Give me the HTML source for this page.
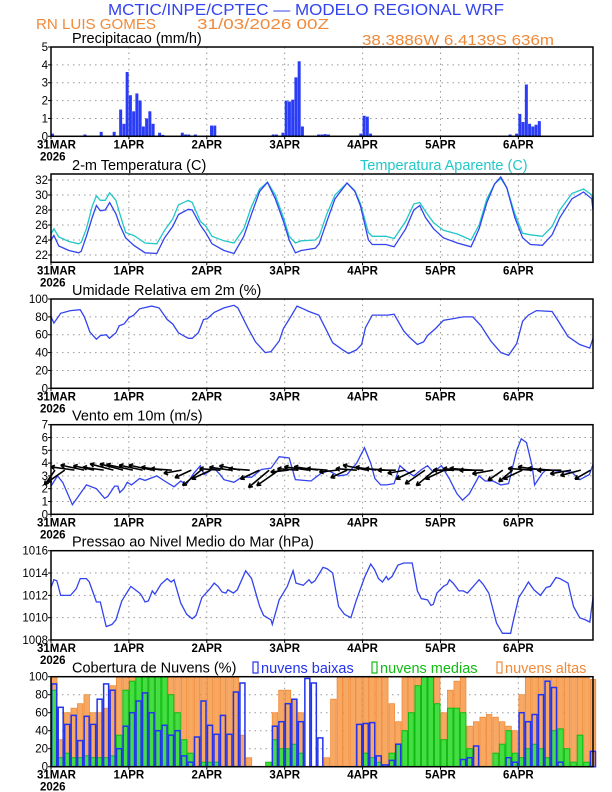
<!DOCTYPE html>
<html><head><meta charset="utf-8"><style>
body{margin:0;background:#fff}
svg{display:block;font-family:"Liberation Sans",sans-serif}
</style></head><body>
<svg id="chart" width="612" height="792" viewBox="0 0 612 792" xmlns="http://www.w3.org/2000/svg">
<text x="306" y="15" text-anchor="middle" font-size="16" fill="#3344ee" textLength="396" lengthAdjust="spacingAndGlyphs">MCTIC/INPE/CPTEC — MODELO REGIONAL WRF</text>
<text x="36" y="29" font-size="15" fill="#f08a3a" textLength="120" lengthAdjust="spacingAndGlyphs">RN LUIS GOMES</text>
<text x="197" y="29" font-size="15" fill="#f08a3a" textLength="132" lengthAdjust="spacingAndGlyphs">31/03/2026 00Z</text>
<text x="362" y="45" font-size="15" fill="#f08a3a" textLength="192" lengthAdjust="spacingAndGlyphs">38.3886W 6.4139S 636m</text>
<g id="layer"></g>
</svg>
<script>
const dayLabels=["31MAR","1APR","2APR","3APR","4APR","5APR","6APR"];
const precipHours=[0,10,15,19,21,22,23,24,25,26,27,28,29,30,31,33,34,40,41,42,44,49,50,68,69,71,72,73,74,75,76,77,82,83,84,85,95,96,97,98,141,143,144,145,146,147,148,149,150];
const precipVals=[0.15,0.1,0.25,0.25,1.5,0.7,3.6,2.3,1.4,2.4,2.0,0.55,1.0,1.4,0.7,0.2,0.08,0.2,0.1,0.1,0.1,0.6,0.6,0.1,0.1,0.2,2.0,1.95,2.05,3.3,4.2,0.55,0.1,0.1,0.12,0.1,0.15,1.15,1.1,0.15,0.1,0.15,1.25,0.8,2.9,0.7,0.55,0.65,0.85];
const tHours=[0,0.9,2.4,5.5,8.5,9.3,10.9,12.7,14,15.2,16.7,18.1,20,21.2,23,25.5,29,32.6,35,37.5,39.3,42.3,43.5,46,47.8,49.6,53.3,56.4,59.4,61.8,64.3,66.7,69.1,71.6,73.4,75.3,77.1,81.4,82.6,85,87.5,91.2,93.6,95.4,97.8,99,103.2,105.7,109.3,111.8,113.6,115.4,117.9,120.9,125.2,129.4,131.9,134.3,136.7,138.6,140.4,142.9,145.3,147.7,151.4,154.4,156.8,160.5,164.1,166.6,167];
const tempVals=[24.0,24.6,23.2,22.6,22.3,22.5,24.5,27.0,28.6,27.9,28.0,29.0,27.5,26.0,24.3,23.3,22.3,22.2,24.3,25.8,27.4,28.1,28.0,26.0,24.9,23.5,22.6,22.2,24.5,27.5,30.5,31.7,29.5,26.5,24.0,22.3,22.6,22.9,23.5,26.5,29.5,31.6,30.5,28.5,24.0,23.4,23.4,23.1,25.5,28.0,28.6,27.0,25.5,24.3,23.6,23.1,25.5,29.0,31.5,32.4,31.0,27.0,24.3,23.4,23.3,24.7,27.0,29.5,30.4,29.5,28.0];
const appVals=[24.8,25.5,24.4,23.8,23.5,23.7,25.5,28.5,29.9,29.3,29.3,30.3,29.3,27.5,25.0,24.6,23.6,23.5,25.3,26.8,28.7,29.3,29.0,26.5,25.8,24.5,23.9,23.6,25.5,28.5,30.8,31.7,30.0,27.0,24.5,23.6,23.9,24.0,24.5,27.5,30.0,31.6,30.6,28.8,25.0,24.5,24.5,24.2,26.5,28.8,29.0,27.8,26.3,25.3,24.8,24.0,26.0,29.5,31.5,32.2,31.0,27.5,24.9,24.7,24.5,25.8,28.0,30.2,30.8,30.0,28.5];
const rhHours=[0,0.9,3,6,9,10.3,12,14,15.2,17,18,20,21,22.5,24,25.5,27.3,31,33.3,35.8,37.5,39.3,42.3,43.5,45.4,47,48.2,50.3,53.3,56.4,57.6,60.6,63,66,67.8,70.3,71.6,74,75.8,77.7,79.5,82.5,85,86.8,89.9,91.7,94.1,95.7,96.9,99,103.8,105.7,108.7,110.5,112.9,114.8,116,118.5,120.9,124,127,130,132.5,135.5,138.6,141,143.5,145.3,147.1,149.6,154.4,156.2,159.3,162.9,166,167];
const rhVals=[80,73,84,87,88,80,63,55,59,60,56,62,70,72,79,82,89,92,90,77,72,62,56,56,62,77,78,85,90,93,90,68,52,40,41,53,67,81,92,89,86,82,64,51,43,39,43,49,68,82,82,83,64,57,49,52,59,67,76,78,80,80,70,53,40,37,50,75,82,87,86,76,58,49,45,56];
const wsHours=[0,2,3.6,6.6,8.4,10.9,14,16.5,17.5,19.6,20.6,21.2,22.4,23.5,24.8,27.3,29,32.6,35,37.9,40,41.6,44,46,47.2,50.3,52.1,53.3,56.4,58.8,61.8,64.8,67.8,70.3,73.4,75.3,80.1,83.2,85.6,88.6,91.2,94.2,96.6,98.5,99.8,101.6,103.4,105.7,107.5,109.3,111.8,114.2,116,117.8,120.3,122.7,125.1,126.8,128.9,131.9,133.8,136.2,138.6,141,143.5,144.9,146.5,148.3,149,151.4,152.6,155.6,160.5,162.9,165.9,167];
const wsVals=[2.2,3.0,2.5,0.75,1.4,2.3,2.0,1.25,1.4,2.2,2.2,1.7,2.0,2.5,2.3,2.8,2.65,3.0,2.6,2.15,2.6,2.3,3.2,3.8,3.1,3.6,3.1,2.7,2.5,2.9,2.9,3.5,3.6,4.5,4.4,2.7,2.6,3.2,3.4,3.0,3.1,4.0,5.2,4.0,2.8,2.3,2.3,2.4,3.8,3.4,3.0,3.5,3.8,3.3,3.8,2.8,1.6,1.1,1.6,3.0,2.6,2.6,2.3,2.4,5.0,5.9,5.6,3.7,2.3,3.2,3.5,3.4,3.3,2.7,3.1,3.9];
const arrowDir=[235,215,172,168,168,172,165,165,168,168,168,172,176,190,205,220,205,176,172,168,176,205,220,215,186,176,172,172,176,186,205,176,168,172,176,180,190,205,215,220,205,180,176,176,180,190,215,220,205,176,172,176,180,190,195,210];
const arrowMag=[3,3.5,4,4,3.5,3.5,4,4,4.5,4,4,3.5,3.5,3,3,4,3.5,3.5,3.5,3.5,3.5,3.5,4.5,4.5,3,3.5,4,4,3.5,3,3,3.5,4,3.5,3.5,3,3,3.5,4,4,3.5,3.5,3.5,4,4,3.5,3,3,3.5,4,4,4,4,3.5,3.5,3];
const pHours=[0,0.9,1.8,3,4.8,6,7.8,9,10.9,11.8,14,15.2,17,18.8,20,21.8,24.6,27.3,27.9,29,30,31.2,32,33.9,35.8,37,37.9,40,41.8,43.5,44.7,46.5,49,50.3,51.5,52.7,53.9,54.5,56.2,57.4,60,61.8,64.3,65.5,67.8,68.2,70.3,72.8,74.6,75.5,77.7,79.5,80.3,81.3,83.8,85,86.8,88.6,90.4,92.4,94,96.6,98.5,99.7,100.9,102.1,103.3,103.9,105.1,106.9,108.7,111.3,112.9,114.1,116,117.1,117.8,118.9,120.9,122.1,122.8,123.9,125.7,127,128.3,129.5,131.9,133.1,134.9,137.3,139.1,141.6,142.2,144.1,145.9,147.1,148.8,150.8,152.6,153.8,155.6,156.8,159.3,161,162.9,164.7,166,167];
const pVals=[1012.7,1013.4,1013.3,1012.0,1012.0,1012.0,1012.6,1013.5,1013.5,1013.2,1011.4,1011.4,1009.2,1009.4,1009.8,1011.5,1012.8,1012.2,1012.0,1011.4,1011.5,1012.4,1012.1,1013.0,1013.5,1013.2,1013.4,1011.3,1010.3,1009.9,1010.2,1011.8,1012.6,1013.1,1012.8,1012.3,1012.2,1012.5,1012.2,1012.5,1014.2,1013.5,1011.0,1010.2,1009.8,1009.4,1011.6,1012.8,1014.2,1013.1,1012.9,1013.4,1013.1,1013.3,1014.5,1014.4,1014.0,1011.0,1010.3,1010.0,1011.5,1013.6,1014.8,1014.3,1013.5,1013.2,1013.7,1013.4,1013.7,1014.7,1014.9,1014.9,1012.4,1011.7,1011.6,1011.1,1011.2,1012.2,1012.8,1013.0,1013.4,1013.1,1012.4,1012.4,1012.2,1012.6,1013.4,1013.0,1012.2,1009.5,1008.6,1008.6,1009.4,1011.8,1012.6,1013.2,1012.5,1012.0,1012.7,1012.8,1013.6,1013.5,1013.1,1011.0,1010.0,1009.8,1009.6,1011.8];
const cloudHigh=[100,30,60,65,70,80,60,60,65,90,100,100,100,100,100,100,100,100,100,100,100,100,100,100,100,100,100,100,100,35,10,0,0,0,60,85,85,75,60,0,0,0,10,75,100,100,100,100,100,100,100,100,70,50,100,100,100,100,100,100,60,85,95,100,45,50,55,58,55,50,45,40,80,100,100,100,100,100,100,100,100,100,100,97];
const cloudMid=[85,10,15,10,10,12,10,10,10,12,35,85,95,100,100,100,100,100,80,60,30,15,0,5,5,5,0,0,0,0,0,0,0,5,30,20,20,25,15,0,0,0,0,0,0,0,0,0,15,10,5,0,15,25,40,60,90,100,100,70,30,65,65,60,20,0,0,0,15,25,40,15,10,20,25,20,10,40,42,20,5,35,5,0];
const cloudLow=[92,66,47,57,29,56,47,75,92,85,20,45,60,73,82,60,40,46,35,40,12,5,33,73,46,36,57,36,83,93,0,0,0,0,45,50,70,75,50,98,93,32,0,0,0,0,0,47,48,49,12,2,7,25,0,0,0,0,0,0,0,0,0,8,10,23,0,0,0,0,10,5,60,50,58,80,95,88,5,0,0,0,0,17];

const NS="http://www.w3.org/2000/svg";
const L=51,R=593,HRS=167;
const X=h=>L+h*(R-L)/HRS;
const layer=document.getElementById('layer');
function mk(tag,attrs,parent){const e=document.createElementNS(NS,tag);for(const k in attrs)e.setAttribute(k,attrs[k]);(parent||layer).appendChild(e);return e;}
function panel(name,top,bot,y0,y1,ticks,fmt,title){
  const g=mk('g',{});
  
  
  const Y=v=>bot-(v-y0)/(y1-y0)*(bot-top);
  for(let d=1;d<7;d++){const gl=mk('line',{x1:X(d*24),x2:X(d*24),y1:top,y2:bot,stroke:'#999','stroke-width':1,'stroke-dasharray':'1.5,4'},g);
    
    }
  ticks.forEach(t=>{
    if(t>y0&&t<y1){const gl=mk('line',{x1:L,x2:R,y1:Y(t),y2:Y(t),stroke:'#999','stroke-width':1,'stroke-dasharray':'1.5,4'},g);
      
      }
    const tk=mk('line',{x1:L-3,x2:L,y1:Y(t),y2:Y(t),stroke:'#000'},g);
    
    
    const tl=mk('text',{x:L-3,y:Y(t)+4,'text-anchor':'end','font-size':11.5,fill:'#000'},g);tl.textContent=fmt(t);
    
    
  });
  dayLabels.forEach((s,i)=>{const tl=mk('text',{x:X(i*24),y:bot+12,'text-anchor':i==0?'start':'middle','font-size':11.5,'font-weight':'bold',fill:'#000'},g);
    if(i==0)tl.setAttribute('x',L-14);
    tl.textContent=s;
    
    
    const tk=mk('line',{x1:X(i*24),x2:X(i*24),y1:bot,y2:bot+3,stroke:'#000'},g);
    
    });
  const yr=mk('text',{x:L-11,y:bot+24,'font-size':11.5,'font-weight':'bold',fill:'#000'},g);yr.textContent='2026';
  
  
  if(title){const tt=mk('text',{x:72,y:top-4,'font-size':14.5,fill:'#000'},g);tt.textContent=title;
    
    }
  const plot=mk('g',{},g);
  
  
  const fr=mk('rect',{x:L,y:top,width:R-L,height:bot-top,fill:'none',stroke:'#000','stroke-width':1.5},g);
  
  
  return {Y,plot,g,fr};
}
function line(p,hs,vs,color,name,w){
  const pl=mk('polyline',{points:hs.map((h,i)=>X(h).toFixed(1)+','+p.Y(vs[i]).toFixed(1)).join(' '),fill:'none',stroke:color,'stroke-width':w||1.3},p.plot);
  
  
}
const p1=panel('precipitation',47,136.3,0,5,[0,1,2,3,4,5],t=>t,'Precipitacao (mm/h)');
precipHours.forEach((h,i)=>{const r=mk('rect',{x:X(h),y:p1.Y(precipVals[i]),width:3,height:p1.Y(0)-p1.Y(precipVals[i]),fill:'#2a3cf5'},p1.plot);
  
  });
const p2=panel('temperature',174,262.3,21.03,32.8,[22,24,26,28,30,32],t=>t,'2-m Temperatura (C)');
line(p2,tHours,appVals,'#22c7c7','apparent-temperature-line');
line(p2,tHours,tempVals,'#3344ee','temperature-line');
const at=mk('text',{x:360,y:170,'font-size':14.5,fill:'#22c7c7'},p2.g);at.textContent='Temperatura Aparente (C)';


const p3=panel('humidity',299,388.3,0,100,[0,20,40,60,80,100],t=>t,'Umidade Relativa em 2m (%)');
line(p3,rhHours,rhVals,'#3344ee','humidity-line');
const p4=panel('wind',424.7,514.3,0,7,[0,1,2,3,4,5,6,7],t=>t,'Vento em 10m (m/s)');
line(p4,wsHours,wsVals,'#3344ee','wind-speed-line');
arrowDir.forEach((d,i)=>{
  const h=i*3, x0=X(h)+4, y0=p4.Y(3.45), len=arrowMag[i]*6, a=d*Math.PI/180;
  const x1=x0+len*Math.cos(a), y1=y0-len*Math.sin(a);
  const ag=mk('g',{stroke:'#000','stroke-width':1.6,fill:'none'},p4.plot);
  
  
  mk('line',{x1:x0,y1:y0,x2:x1,y2:y1},ag);
  [0.5,-0.5].forEach(o=>mk('line',{x1:x1,y1:y1,x2:x1-4.5*Math.cos(a+o),y2:y1+4.5*Math.sin(a+o)},ag));
});
const p5=panel('pressure',550.7,640,1008,1016,[1008,1010,1012,1014,1016],t=>t,'Pressao ao Nivel Medio do Mar (hPa)');
line(p5,pHours,pVals,'#3344ee','pressure-line');
const p6=panel('clouds',676.7,766.7,0,100,[0,20,40,60,80,100],t=>t,'Cobertura de Nuvens (%)');
cloudHigh.forEach((v,i)=>{const r=mk('rect',{x:X(i*2)+0.5,y:p6.Y(v),width:5.5,height:p6.Y(0)-p6.Y(v),fill:'#f7a862',stroke:'#f08a3a','stroke-width':0.8},p6.plot);
  
  });
cloudMid.forEach((v,i)=>{const r=mk('rect',{x:X(i*2)+0.5,y:p6.Y(v),width:5.5,height:p6.Y(0)-p6.Y(v),fill:'#44dd44',stroke:'#11bb11','stroke-width':1},p6.plot);
  
  });
cloudLow.forEach((v,i)=>{const r=mk('rect',{x:X(i*2)+0.7,y:p6.Y(v),width:5,height:p6.Y(0)-p6.Y(v),fill:'none',stroke:'#2233ee','stroke-width':1.5},p6.plot);
  
  });
[['nuvens baixas','#2233ee',253],['nuvens medias','#11bb11',372],['nuvens altas','#f08a3a',497]].forEach(([s,c,x])=>{
  const b=mk('rect',{x:x,y:662,width:5,height:11,fill:'none',stroke:c,'stroke-width':1.2},p6.g);
  
  
  const t=mk('text',{x:x+8,y:673,'font-size':14.5,fill:c},p6.g);t.textContent=s;
  
  
});
</script>
</body></html>
